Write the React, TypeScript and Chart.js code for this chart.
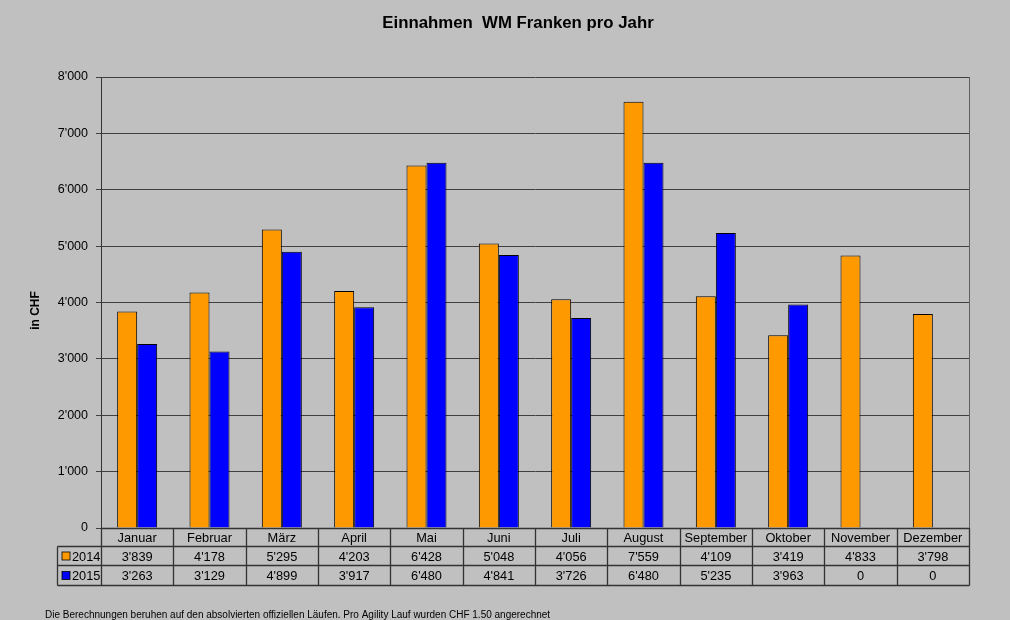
import React, { useEffect, useRef } from "react";
import { Chart, registerables } from "chart.js";

Chart.register(...registerables);

const months = ["Januar", "Februar", "März", "April", "Mai", "Juni", "Juli", "August", "September", "Oktober", "November", "Dezember"];
const values2014 = [3839, 4178, 5295, 4203, 6428, 5048, 4056, 7559, 4109, 3419, 4833, 3798];
const values2015 = [3263, 3129, 4899, 3917, 6480, 4841, 3726, 6480, 5235, 3963, 0, 0];
const seriesNames = ["2014", "2015"];
const seriesColors = ["#FF9900", "#0000FF"];
const yTicks = [0, 1000, 2000, 3000, 4000, 5000, 6000, 7000, 8000];
const titleText = "Einnahmen  WM Franken pro Jahr";
const yTitle = "in CHF";
const footnote = "Die Berechnungen beruhen auf den absolvierten offiziellen Läufen. Pro Agility Lauf wurden CHF 1.50 angerechnet";

const FONT = "'Liberation Sans', Arial, sans-serif";
const fmt = (v: number) => {
  const s = Math.round(v).toString();
  return s.replace(/\B(?=(\d{3})+(?!\d))/g, "'");
};

const decorPlugin = {
  id: "decor",
  beforeDraw(chart: any) {
    const ctx = chart.ctx;
    ctx.save();
    ctx.fillStyle = "#C0C0C0";
    ctx.fillRect(0, 0, chart.width, chart.height);
    ctx.restore();
  },
  afterDraw(chart: any) {
    const ctx = chart.ctx;
    const area = chart.chartArea;
    const x = chart.scales.x;
    ctx.save();
    // title
    ctx.fillStyle = "#000";
    ctx.font = `bold 16.8px ${FONT}`;
    ctx.textAlign = "center";
    ctx.textBaseline = "alphabetic";
    ctx.fillText(titleText, 518, 28);
    // y title
    ctx.save();
    ctx.translate(39, (area.top + area.bottom) / 2 + 8);
    ctx.rotate(-Math.PI / 2);
    ctx.font = `bold 12px ${FONT}`;
    ctx.textAlign = "center";
    ctx.fillText(yTitle, 0, 0);
    ctx.restore();
    // right border of plot
    ctx.strokeStyle = "#606060";
    ctx.lineWidth = 1;
    ctx.beginPath();
    ctx.moveTo(area.right + 0.5, area.top);
    ctx.lineTo(area.right + 0.5, area.bottom);
    ctx.stroke();

    // data table
    const n = months.length;
    const cw = (area.right - area.left) / n;
    const rowTop = area.bottom;
    const rows = [rowTop, 546.5, 565.5, 585.5];
    const legLeft = 57.5;
    ctx.strokeStyle = "#333";
    ctx.lineWidth = 1.3;
    ctx.beginPath();
    ctx.moveTo(area.left, rows[0] + 0.5);
    ctx.lineTo(area.right, rows[0] + 0.5);
    for (let r = 1; r < rows.length; r++) {
      ctx.moveTo(legLeft, rows[r]);
      ctx.lineTo(area.right + 0.5, rows[r]);
    }
    for (let i = 0; i <= n; i++) {
      const vx = Math.round(area.left + i * cw) + 0.5;
      ctx.moveTo(vx, rows[0]);
      ctx.lineTo(vx, rows[3]);
    }
    ctx.moveTo(legLeft, rows[1]);
    ctx.lineTo(legLeft, rows[3]);
    ctx.stroke();

    ctx.fillStyle = "#000";
    ctx.font = `12.8px ${FONT}`;
    ctx.textAlign = "center";
    ctx.textBaseline = "middle";
    const seriesVals = [values2014, values2015];
    for (let i = 0; i < n; i++) {
      const cx = x.getPixelForValue(i);
      ctx.fillText(months[i], cx, (rows[0] + rows[1]) / 2 + 1);
      ctx.fillText(fmt(seriesVals[0][i]), cx, (rows[1] + rows[2]) / 2 + 1);
      ctx.fillText(fmt(seriesVals[1][i]), cx, (rows[2] + rows[3]) / 2 + 1);
    }
    for (let s = 0; s < 2; s++) {
      const cy = (rows[s + 1] + rows[s + 2]) / 2;
      ctx.fillStyle = seriesColors[s];
      ctx.fillRect(62, cy - 4, 8, 8);
      ctx.strokeStyle = "#000";
      ctx.lineWidth = 0.8;
      ctx.strokeRect(62, cy - 4, 8, 8);
      ctx.fillStyle = "#000";
      ctx.textAlign = "left";
      ctx.fillText(seriesNames[s], 72, cy + 1);
    }
    // footnote
    ctx.font = `10px ${FONT}`;
    ctx.textAlign = "left";
    ctx.textBaseline = "alphabetic";
    ctx.fillStyle = "#000";
    ctx.fillText(footnote, 45, 618);
    ctx.restore();
  },
};

export default function App() {
  const ref = useRef<HTMLCanvasElement | null>(null);
  useEffect(() => {
    if (!ref.current) return;
    const chart = new Chart(ref.current, {
      type: "bar",
      data: {
        labels: months,
        datasets: [
          {
            label: seriesNames[0],
            data: values2014,
            backgroundColor: seriesColors[0],
            borderColor: "#000",
            borderWidth: 1,
            categoryPercentage: 0.553,
            barPercentage: 1.0,
          },
          {
            label: seriesNames[1],
            data: values2015,
            backgroundColor: seriesColors[1],
            borderColor: "#000",
            borderWidth: 1,
            categoryPercentage: 0.553,
            barPercentage: 1.0,
          },
        ],
      },
      options: {
        responsive: false,
        animation: false,
        devicePixelRatio: 1,
        layout: { padding: { left: 0, top: 77, right: 41, bottom: 35 } },
        plugins: {
          legend: { display: false },
          title: { display: false },
          tooltip: { enabled: false },
        },
        scales: {
          x: {
            display: true,
            ticks: { display: false },
            grid: { display: false, drawTicks: false },
            border: { display: false },
            afterFit: (s: any) => {
              s.height = 57;
            },
          },
          y: {
            min: 0,
            max: 8000,
            afterBuildTicks: (s: any) => {
              s.ticks = yTicks.map((v) => ({ value: v }));
            },
            ticks: {
              callback: (v: any) => fmt(Number(v)),
              color: "#000",
              font: { family: FONT, size: 12.5 },
              padding: 8,
            },
            grid: { color: "#404040", lineWidth: 1, tickLength: 5, drawTicks: true },
            border: { display: true, color: "#333", width: 1 },
            afterFit: (s: any) => {
              s.width = 101;
            },
          },
        },
      },
      plugins: [decorPlugin],
    } as any);
    return () => chart.destroy();
  }, []);
  return (
    <div style={{ position: "fixed", left: 0, top: 0, width: 1010, height: 620, background: "#C0C0C0" }}>
      <canvas ref={ref} width={1010} height={620} style={{ width: 1010, height: 620, display: "block" }} />
    </div>
  );
}
